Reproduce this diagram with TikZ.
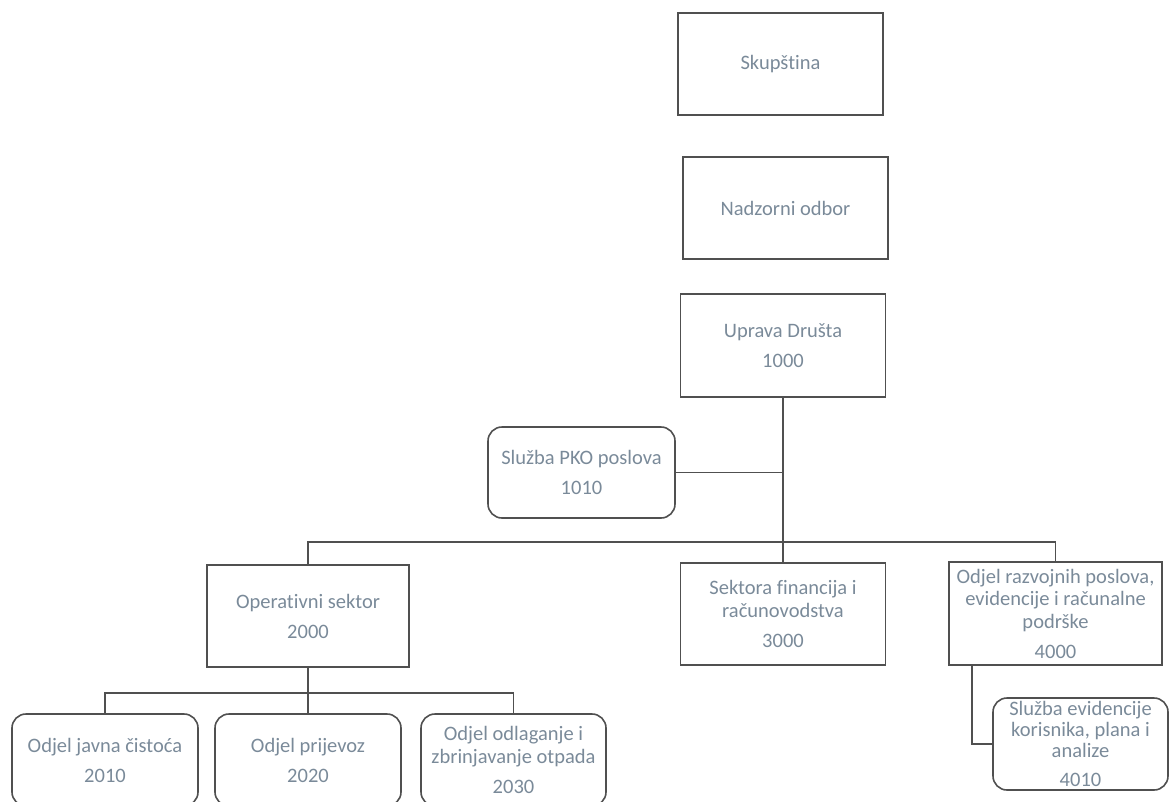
\documentclass[tikz,border=0pt]{standalone}
\usepackage{fontspec}
\setmainfont{Carlito}[Ligatures=NoCommon]
\definecolor{txt}{RGB}{122,138,153}
\definecolor{ln}{RGB}{80,80,80}
\tikzset{
  box/.style={draw=ln, line width=1.6pt, inner sep=0pt, align=center, text=txt,
    font=\fontsize{20.5}{22.5}\selectfont},
  rbox/.style={box, rounded corners=14pt},
  conn/.style={draw=ln, line width=1.6pt},
}
\newcommand{\gap}{\\[7.5pt]}
\begin{document}
\begin{tikzpicture}[x=1pt,y=-1pt]
\useasboundingbox (0,0) rectangle (1170,801);
\clip (0,0) rectangle (1170,801);
\node[box, minimum width=205pt, minimum height=102pt] (skup) at (780.5,64) {Skupština};
\node[box, minimum width=205pt, minimum height=102pt] (nad) at (785.5,208) {Nadzorni odbor};
\node[box, minimum width=205pt, minimum height=103pt] (upr) at (783,345.5) {Uprava Društa\gap 1000};
\node[rbox, minimum width=187pt, minimum height=91pt] (pko) at (581.5,472.5) {Služba PKO poslova\gap 1010};
\node[box, minimum width=202pt, minimum height=102pt] (op) at (308,616) {Operativni sektor\gap 2000};
\node[box, minimum width=205pt, minimum height=102pt] (sek) at (783,614) {Sektora financija i\\računovodstva\gap 3000};
\node[box, minimum width=213pt, minimum height=103pt] (r4) at (1055.5,613.5) {Odjel razvojnih poslova,\\evidencije i računalne\\podrške\gap 4000};
\node[rbox, minimum width=186pt, minimum height=92pt] (jav) at (105,760) {Odjel javna čistoća\gap 2010};
\node[rbox, minimum width=186pt, minimum height=92pt] (pri) at (308,760) {Odjel prijevoz\gap 2020};
\node[rbox, minimum width=185pt, minimum height=92pt] (odl) at (513.5,760) {Odjel odlaganje i\\zbrinjavanje otpada\gap 2030};
\node[rbox, minimum width=175pt, minimum height=92pt, font=\fontsize{20.5}{21}\selectfont] (sev) at (1080.5,744) {Služba evidencije\\korisnika, plana i\\analize\gap 4010};
\coordinate (bus) at (0,542);
\coordinate (sub) at (0,693);
% connectors
\draw[conn] (upr.south) -- (sek.north);
\draw[conn] (pko.east) -- (pko.east -| upr.south);
\draw[conn] (op.north) -- (op.north |- bus) -- (r4.north |- bus) -- (r4.north);
\draw[conn] (op.south) -- (pri.north);
\draw[conn] (jav.north) -- (jav.north |- sub) -- (odl.north |- sub) -- (odl.north);
\draw[conn] ([xshift=-83.5pt]r4.south) |- (sev.west);
\end{tikzpicture}
\end{document}
